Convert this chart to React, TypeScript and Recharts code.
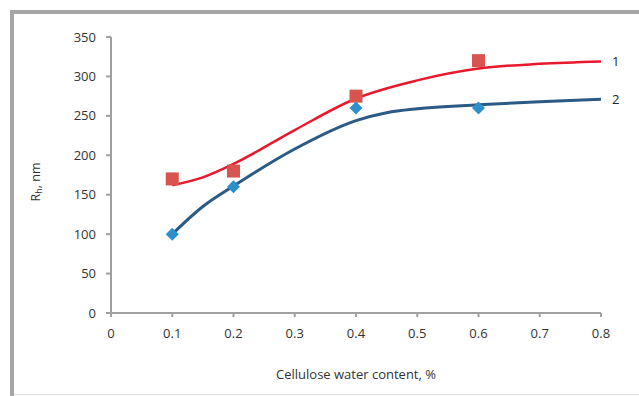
import React from "react";
import { ComposedChart, Line, Scatter, XAxis, YAxis } from "recharts";

const xTicks = [0, 0.1, 0.2, 0.3, 0.4, 0.5, 0.6, 0.7, 0.8];
const yTicks = [0, 50, 100, 150, 200, 250, 300, 350];

const curve1X = [0.1, 0.15, 0.2, 0.3, 0.4, 0.5, 0.6, 0.7, 0.8];
const curve1Y = [162, 172, 189, 232, 272, 295, 310, 316, 319];
const curve2X = [0.1, 0.15, 0.2, 0.3, 0.4, 0.45, 0.5, 0.6, 0.7, 0.8];
const curve2Y = [100, 135, 161, 208, 244, 254, 259, 264, 268, 271];

const pointsX = [0.1, 0.2, 0.4, 0.6];
const points1Y = [170, 180, 275, 320];
const points2Y = [100, 160, 260, 260];

const curve1 = curve1X.map((x, i) => ({ x, y: curve1Y[i] }));
const curve2 = curve2X.map((x, i) => ({ x, y: curve2Y[i] }));
const pts1 = pointsX.map((x, i) => ({ x, y: points1Y[i] }));
const pts2 = pointsX.map((x, i) => ({ x, y: points2Y[i] }));

const FONT = "'Open Sans', sans-serif";

const Square = (props: any) => {
  const { cx, cy } = props;
  return <rect x={cx - 6.5} y={cy - 6.5} width={13} height={13} fill="#d9534f" />;
};
const Diamond = (props: any) => {
  const { cx, cy } = props;
  const r = 6.5;
  return (
    <polygon
      points={`${cx},${cy - r} ${cx + r},${cy} ${cx},${cy + r} ${cx - r},${cy}`}
      fill="#2e8fcc"
    />
  );
};

const endLabel = (text: string, n: number) => (props: any) => {
  const { x, y, index } = props;
  if (index !== n - 1) return null;
  return (
    <text x={x + 11} y={y + 5} fontFamily={FONT} fontSize={13} fill="#222">
      {text}
    </text>
  );
};

const YLabel = (props: any) => {
  const cx = 35;
  const cy = 182;
  return (
    <text
      x={cx}
      y={cy}
      transform={`rotate(-90, ${cx}, ${cy})`}
      textAnchor="middle"
      fontFamily={FONT}
      fontSize={12.5}
      fill="#333"
      dominantBaseline="central"
    >
      R<tspan fontSize={9} dy={3}>h</tspan>
      <tspan dy={-3}>, nm</tspan>
    </text>
  );
};

export default function App() {
  return (
    <div style={{ position: "absolute", left: 0, top: 0, width: 639, height: 396, background: "#fff" }}>
      <div style={{ position: "absolute", left: 10, top: 10, width: 629, height: 4, background: "#a6a6a6" }} />
      <div style={{ position: "absolute", left: 10, top: 10, width: 4, height: 386, background: "#a6a6a6" }} />
      <div style={{ position: "absolute", left: 14, top: 394, width: 625, height: 1, background: "#dcdcdc" }} />
      <div style={{ position: "absolute", left: 0, top: 0 }}>
        <ComposedChart
          width={639}
          height={396}
          margin={{ top: 37, right: 38, bottom: 0, left: 0 }}
        >
          <XAxis
            type="number"
            dataKey="x"
            domain={[0, 0.8]}
            ticks={xTicks}
            allowDataOverflow
            height={83}
            stroke="#a0a0a0"
            strokeWidth={2}
            tickSize={4}
            tickMargin={12}
            tick={{ fill: "#333", fontSize: 13, fontFamily: FONT }}
            label={{
              value: "Cellulose water content, %",
              position: "insideBottom",
              offset: 17,
              style: { fill: "#333", fontSize: 13, fontFamily: FONT },
            }}
          />
          <YAxis
            type="number"
            dataKey="y"
            domain={[0, 350]}
            ticks={yTicks}
            width={111}
            stroke="#a0a0a0"
            strokeWidth={2}
            tickSize={5}
            tickMargin={10}
            tick={{ fill: "#333", fontSize: 13, fontFamily: FONT }}
            label={<YLabel />}
          />
          <Line
            data={curve1}
            dataKey="y"
            type="monotone"
            stroke="#e8192c"
            strokeWidth={2.5}
            dot={false}
            activeDot={false}
            isAnimationActive={false}
            label={endLabel("1", curve1.length)}
          />
          <Line
            data={curve2}
            dataKey="y"
            type="monotone"
            stroke="#2b5a85"
            strokeWidth={3}
            dot={false}
            activeDot={false}
            isAnimationActive={false}
            label={endLabel("2", curve2.length)}
          />
          <Scatter data={pts1} dataKey="y" shape={<Square />} isAnimationActive={false} />
          <Scatter data={pts2} dataKey="y" shape={<Diamond />} isAnimationActive={false} />
        </ComposedChart>
      </div>
    </div>
  );
}
